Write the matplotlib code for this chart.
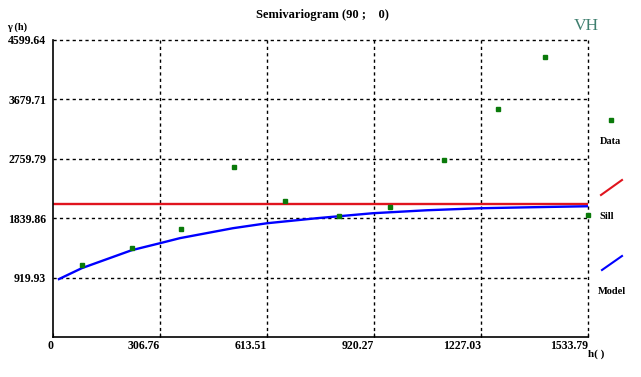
import matplotlib.pyplot as plt
from matplotlib.lines import Line2D

# experimental semivariogram points
lag = [83, 226, 367, 519, 665, 820, 966, 1121, 1276, 1410, 1534]
gamma = [1113, 1376, 1670, 2628, 2103, 1871, 2010, 2737, 3525, 4329, 1886]

# fitted model curve
model_h = [17, 83, 226, 307, 364, 516, 614, 757, 917, 1072, 1224, 1376, 1534]
model_g = [897, 1067, 1345, 1453, 1531, 1685, 1762, 1840, 1917, 1963, 1994, 2010, 2025]

sill = 2056

xticks = [0, 306.76, 613.51, 920.27, 1227.03, 1533.79]
yticks = [919.93, 1839.86, 2759.79, 3679.71, 4599.64]

W, H = 641, 377
fig = plt.figure(figsize=(W / 100, H / 100), dpi=100)
plt.rcParams['font.family'] = 'Liberation Serif'

ax = fig.add_axes([53 / W, 40 / H, (588 - 53) / W, (337 - 40) / H])
ax.set_xlim(0, 1533.79)
ax.set_ylim(0, 4599.64)

dash = (0, (2.3, 2.3))
for x in xticks[1:]:
    ax.axvline(x, color='black', ls=dash, lw=1, clip_on=False, zorder=1)
for y in yticks:
    ax.axhline(y, color='black', ls=dash, lw=1, clip_on=False, zorder=1)

ax.axhline(sill, color='#e0141e', lw=1.7, zorder=2)
ax.plot(model_h, model_g, color='#0000ff', lw=1.7, zorder=3)
ax.plot(lag, gamma, ls='none', marker='s', ms=3.5, color='#0a7a0a', zorder=4, clip_on=False)

for s in ['top', 'right']:
    ax.spines[s].set_visible(False)
for s in ['left', 'bottom']:
    ax.spines[s].set_linewidth(1.2)

ax.set_xticks(xticks)
ax.set_xticklabels([f'{v:g}' if v == 0 else f'{v:.2f}' for v in xticks],
                   fontsize=8.5, fontweight='bold', ha='right')
ax.set_yticks(yticks)
ax.set_yticklabels([f'{v:.2f}' for v in yticks], fontsize=8.5, fontweight='bold')
ax.tick_params(axis='x', direction='in', length=3, pad=2)
ax.tick_params(axis='y', length=0, pad=5)

fig.text(322 / W, 1 - 15 / H, 'Semivariogram (90 ;    0)', ha='center', va='center',
         fontsize=9, fontweight='bold')
fig.text(7 / W, 1 - 27 / H, 'γ (h)', ha='left', va='center', fontsize=7.5, fontweight='bold')
fig.text(588 / W, 1 - 354 / H, 'h( )', ha='left', va='center', fontsize=8, fontweight='bold')
fig.text(586 / W, 1 - 26 / H, 'VH', ha='center', va='center', fontsize=12.5, color='#3f7f6f')

# legend on the right
fig.add_artist(Line2D([611 / W], [1 - 120 / H], marker='s', ms=3.5, color='#0a7a0a',
                      transform=fig.transFigure))
fig.text(611 / W, 1 - 142 / H, 'Data', ha='center', va='center', fontsize=7.5, fontweight='bold')
fig.add_artist(Line2D([601 / W, 622 / W], [1 - 195 / H, 1 - 180 / H], color='#e0141e', lw=1.5,
                      transform=fig.transFigure))
fig.text(607 / W, 1 - 216 / H, 'Sill', ha='center', va='center', fontsize=7.5, fontweight='bold')
fig.add_artist(Line2D([602 / W, 622 / W], [1 - 270 / H, 1 - 256 / H], color='#0000ff', lw=1.5,
                      transform=fig.transFigure))
fig.text(612 / W, 1 - 292 / H, 'Model', ha='center', va='center', fontsize=7.5, fontweight='bold')

fig.savefig('out.png', dpi=100)
